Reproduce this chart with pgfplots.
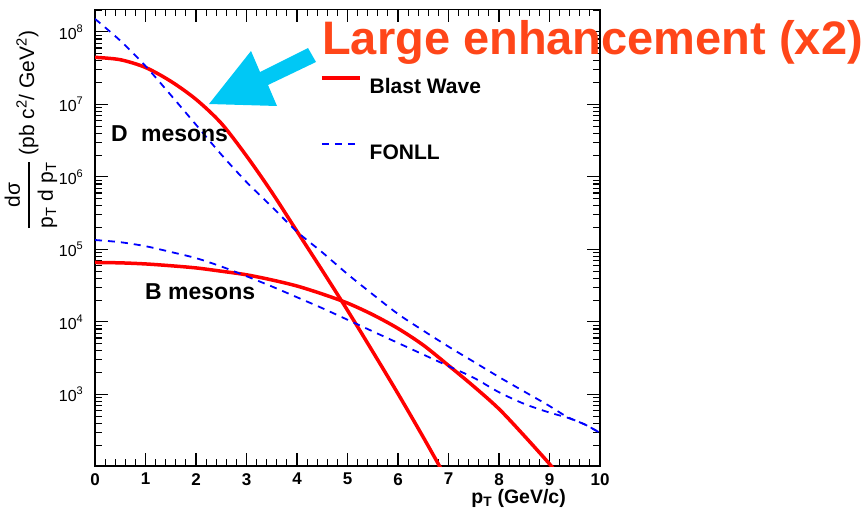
\documentclass[border=0pt]{standalone}
\usepackage{amsmath}
\usepackage{fontspec}
\setmainfont{Liberation Sans}
\usepackage{pgfplots}
\pgfplotsset{compat=1.18}
\definecolor{arrowcyan}{RGB}{0,200,245}
\definecolor{annot}{RGB}{255,70,25}
\newcommand\tp[1]{10\raisebox{0.45em}{\fontsize{11}{11}\selectfont #1}}
\begin{document}
\begin{tikzpicture}
\path[use as bounding box] (0pt,0pt) rectangle (868pt,-519pt);
\begin{axis}[
  at={(95pt,-466pt)}, anchor=south west,
  scale only axis, width=505pt, height=456.5pt,
  xmin=0, xmax=10, ymin=103, ymax=2.04e8,
  ymode=log,
  axis line style={line width=1.8pt},
  tick align=inside,
  major tick length=13pt, minor tick length=7pt,
  every tick/.style={black, line width=1.1pt},
  xtick={0,1,2,3,4,5,6,7,8,9,10}, minor x tick num=4,
  ytick={1e3,1e4,1e5,1e6,1e7,1e8},
  yticklabels={\tp{3},\tp{4},\tp{5},\tp{6},\tp{7},\tp{8}},
  minor ytick={200,300,400,500,600,700,800,900,
    2000,3000,4000,5000,6000,7000,8000,9000,
    2e4,3e4,4e4,5e4,6e4,7e4,8e4,9e4,
    2e5,3e5,4e5,5e5,6e5,7e5,8e5,9e5,
    2e6,3e6,4e6,5e6,6e6,7e6,8e6,9e6,
    2e7,3e7,4e7,5e7,6e7,7e7,8e7,9e7,2e8},
  /pgf/number format/assume math mode=true,
  xticklabel style={font=\fontsize{17}{17}\selectfont\bfseries, inner sep=0pt, yshift=-7pt},
  yticklabel style={font=\fontsize{16}{16}\selectfont, inner sep=0pt, xshift=-12pt},
  legend style={at={(0.4455,0.8545)}, anchor=north west, draw=none, fill=none,
    inner sep=0pt, cells={anchor=base west},
    font=\fontsize{21}{21}\selectfont\bfseries, row sep=50.2pt,
    nodes={inner sep=0pt, text depth=0pt},
    /tikz/every odd column/.append style={column sep=8pt}},
  legend cell align=left,
  legend image code/.code={\draw[#1] (0pt,7.6pt) -- (38pt,7.6pt);},
]
% D mesons, Blast Wave
\addplot[red, line width=3.5pt, smooth] coordinates {
 (0,4.467e7) (0.5,4.14e7) (1.0,3.236e7) (1.5,2.089e7) (2.0,1.175e7) (2.5,5.50e6)
 (3.0,1.95e6) (3.5,6.17e5) (4.0,1.778e5) (4.5,5.13e4) (5.0,1.445e4)
 (5.5,3.89e3) (6.0,1023) (6.5,257) (7.0,61.7)};
\addlegendentry{Blast Wave}
% D mesons, FONLL
\addplot[blue, line width=1.8pt, dash pattern=on 7pt off 6pt, smooth] coordinates {
 (0,1.514e8) (0.5,7.59e7) (1.0,3.39e7) (1.5,1.349e7) (2.0,5.25e6) (2.5,2.04e6)
 (3.0,8.51e5) (3.5,3.89e5) (4.0,1.758e5) (4.5,9.12e4) (5.0,4.57e4) (5.5,2.40e4)
 (6.0,1.288e4) (6.5,7.59e3) (7.0,4.57e3) (7.5,2.82e3) (8.0,1.738e3) (8.5,1.096e3)
 (9.0,692) (9.35,490) (9.7,385) (10,295)};
\addlegendentry{FONLL}
% B mesons, Blast Wave
\addplot[red, line width=3.5pt, smooth, forget plot] coordinates {
 (0,6.61e4) (0.5,6.53e4) (1.0,6.31e4) (1.5,5.96e4) (2.0,5.56e4) (2.5,5.01e4)
 (3.0,4.47e4) (3.5,3.80e4) (4.0,3.13e4) (4.5,2.43e4) (5.0,1.82e4) (5.5,1.259e4)
 (6.0,8.13e3) (6.5,4.79e3) (7.0,2.51e3) (7.5,1.29e3) (8.0,631) (8.5,269)
 (9.0,110) (9.2,74)};
% B mesons, FONLL
\addplot[blue, line width=1.8pt, dash pattern=on 7pt off 6pt, smooth, forget plot] coordinates {
 (0,1.349e5) (0.5,1.259e5) (1.0,1.109e5) (1.5,9.23e4) (2.0,7.59e4) (2.5,5.82e4)
 (3.0,4.27e4) (3.5,3.09e4) (4.0,2.19e4) (4.5,1.549e4) (5.0,1.072e4) (5.5,7.41e3)
 (6.0,5.13e3) (6.5,3.55e3) (7.0,2.455e3) (7.5,1.698e3) (8.0,1.072e3) (8.5,741)
 (9.0,562) (9.35,479) (9.7,385) (10,295)};
\end{axis}
% annotation arrow
\fill[arrowcyan] (209pt,-104pt) -- (251pt,-51pt) -- (260pt,-72pt) -- (308pt,-48pt)
  -- (316pt,-62pt) -- (268pt,-85pt) -- (277pt,-106pt) -- cycle;
\node[anchor=base west, inner sep=0pt, text=annot, font=\fontsize{47}{47}\selectfont\bfseries]
  at (322pt,-55pt) {Large enhancement (x2)};
\node[anchor=base west, inner sep=0pt, font=\fontsize{23}{23}\selectfont\bfseries]
  at (111pt,-141.7pt) {D\hspace{0.3em} mesons};
\node[anchor=base west, inner sep=0pt, font=\fontsize{23}{23}\selectfont\bfseries]
  at (145pt,-299.3pt) {B mesons};
\node[anchor=base east, inner sep=0pt, font=\fontsize{19.5}{19.5}\selectfont\bfseries]
  at (566pt,-503pt) {p\textsubscript{T} (GeV/c)};
\node[rotate=90, inner sep=0pt, font=\fontsize{21}{21}\selectfont] at (31pt,-130pt)
  {$\genfrac{}{}{2.5pt}{0}{\mbox{dσ}}{\mbox{p\textsubscript{T} d p\textsubscript{T}}}$ (pb c\textsuperscript{2}/ GeV\textsuperscript{2})};
\end{tikzpicture}
\end{document}
